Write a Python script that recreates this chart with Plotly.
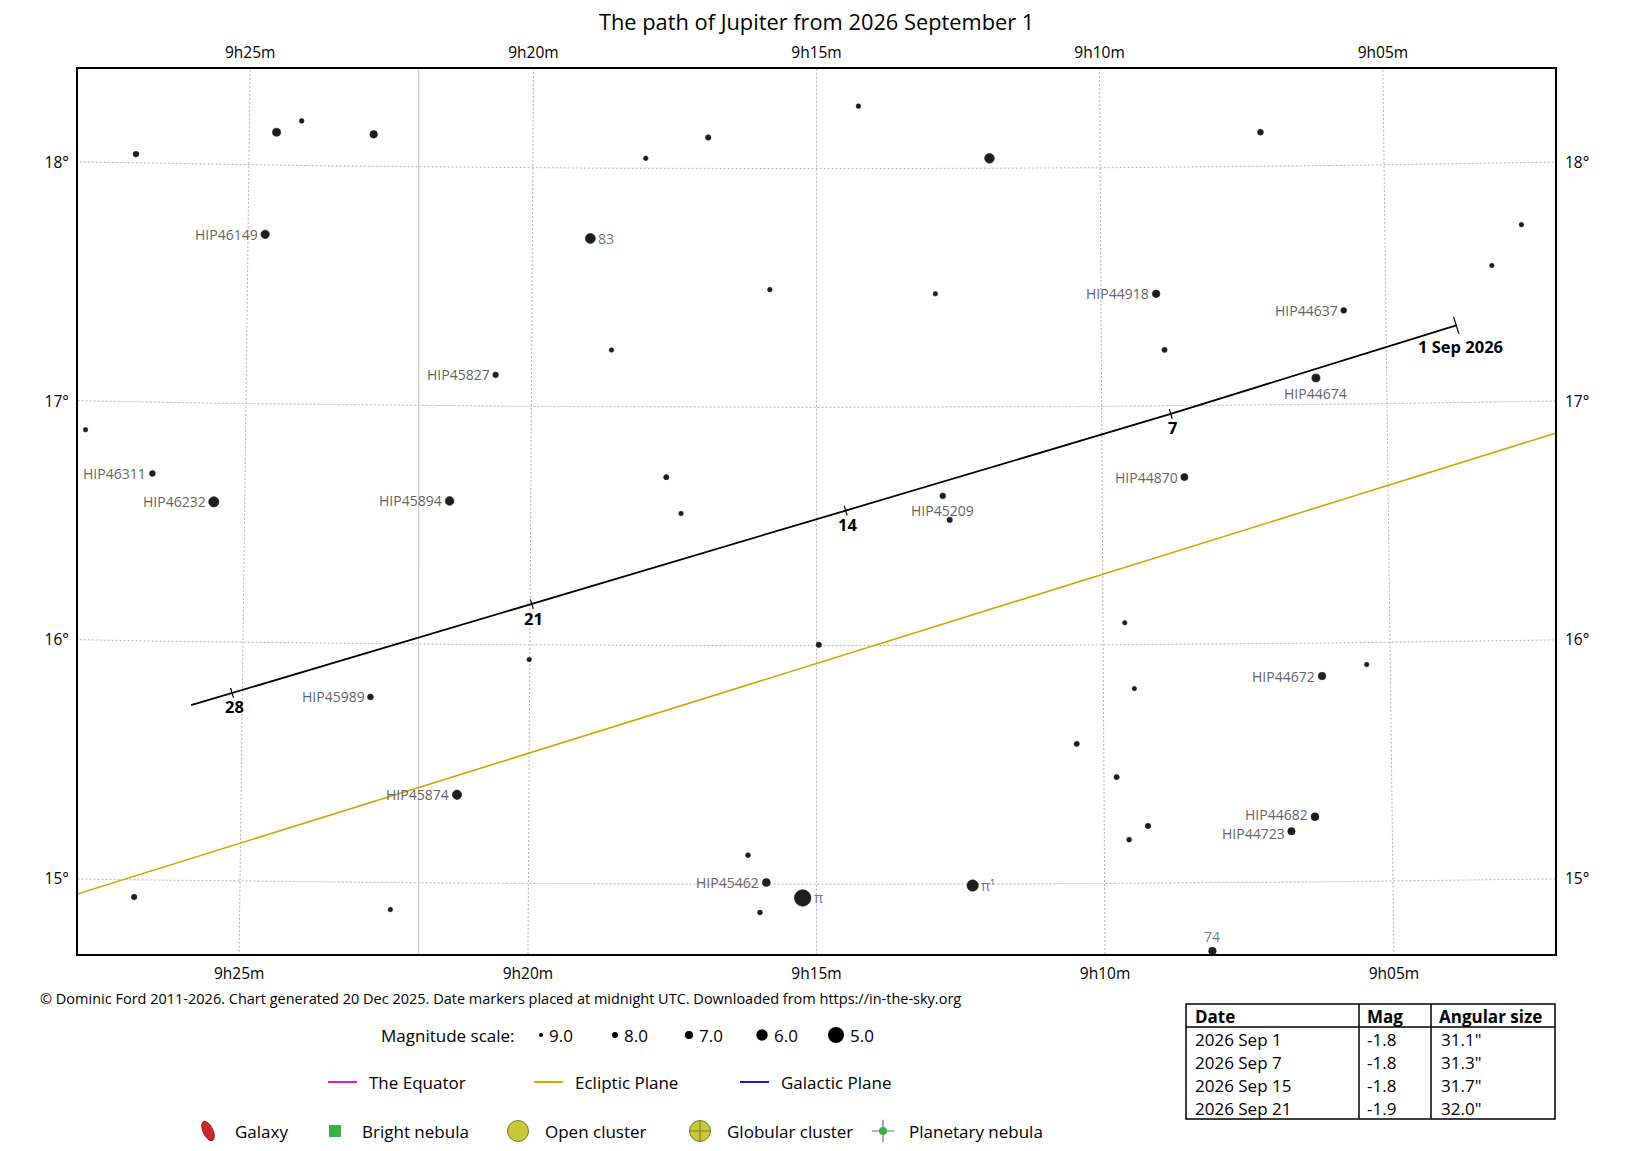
import numpy as np
import plotly.graph_objects as go

FONT = "Open Sans"
W, H = 1633, 1151
OFF = 8  # the page body margin the figure sits inside
# plot frame in page pixels and the chart scale
FL, FR, FT, FB = 78, 1555, 69, 954
PX_PER_DEG = 238.5

# tangent point of the projection (RA in minutes after 9h, Dec in degrees)
ra0_min = 15.0
dec0 = 16.563

title = "The path of Jupiter from 2026 September 1"
footer = ("© Dominic Ford 2011-2026. Chart generated 20 Dec 2025. Date markers placed at "
          "midnight UTC. Downloaded from https://in-the-sky.org")

# field stars: RA (minutes after 9h), Dec (deg), magnitude, label
star_ra_min = [26.99, 24.52, 24.08, 22.81, 14.26, 16.91, 18.01, 11.95, 7.17, 24.70,
               18.98, 15.82, 12.91, 9.03, 5.74, 3.13, 2.60, 18.60, 8.89, 20.63,
               6.24, 27.80, 26.62, 25.54, 21.42, 17.63, 17.37, 8.56, 12.79, 12.67,
               9.62, 14.96, 20.01, 5.41, 6.19, 9.46, 22.77, 10.47, 9.78, 21.25,
               6.34, 6.75, 9.24, 9.57, 16.19, 15.87, 15.24, 12.29, 15.98, 26.83,
               22.39, 8.14]
star_dec = [18.038, 18.138, 18.187, 18.134, 18.262, 18.130, 18.042, 18.042, 18.143, 17.710,
            17.705, 17.493, 17.475, 17.470, 17.393, 17.572, 17.741, 17.238, 17.235, 17.131,
            17.111, 16.881, 16.702, 16.587, 16.601, 16.706, 16.554, 16.701, 16.628, 16.527,
            16.092, 16.004, 15.939, 15.908, 15.862, 15.816, 15.777, 15.586, 15.446, 15.370,
            15.273, 15.213, 15.240, 15.183, 15.122, 15.008, 14.943, 14.994, 14.882, 14.928,
            14.887, 14.714]
star_mag = [8.0, 7.0, 8.6, 7.2, 8.7, 8.2, 8.7, 6.5, 8.0, 6.9,
            6.4, 8.7, 8.7, 7.2, 8.0, 8.7, 8.7, 8.7, 8.3, 8.1,
            7.0, 8.7, 8.0, 6.3, 6.8, 8.3, 8.7, 7.4, 8.0, 8.2,
            8.8, 8.2, 8.7, 8.7, 7.2, 8.8, 8.0, 8.3, 8.3, 6.6,
            7.1, 7.3, 8.2, 8.5, 8.5, 7.1, 4.9, 6.0, 8.5, 8.2,
            8.7, 7.2]
star_name = ["", "", "", "", "", "", "", "", "", "HIP46149",
             "83", "", "", "HIP44918", "HIP44637", "", "", "", "", "HIP45827",
             "HIP44674", "", "HIP46311", "HIP46232", "HIP45894", "", "", "HIP44870", "HIP45209", "",
             "", "", "", "", "HIP44672", "", "HIP45989", "", "", "HIP45874",
             "HIP44682", "HIP44723", "", "", "", "HIP45462", "π", "π¹", "", "",
             "", "74"]
# where each label sits relative to its star
label_side = {"83": "right", "π": "right", "π¹": "right", "74": "above",
              "HIP44674": "below", "HIP45209": "below"}
# small vertical nudges (px) for crowded labels
label_nudge = {"HIP44682": 2, "HIP44723": -2}

# Jupiter at midnight UTC
jup_label = ["1 Sep 2026", "7", "14", "21", "28", ""]
jup_ra_min = [3.77, 8.79, 14.49, 19.97, 25.18, 25.89]
jup_dec = [17.324, 16.966, 16.567, 16.171, 15.788, 15.734]

# ecliptic (a great circle, so a straight segment here)
ecl_ra_min = [28.45, 1.38]
ecl_dec = [14.887, 16.914]

# constellation boundary
bound_ra_min = [22.03, 21.89]
bound_dec = [18.5, 14.6]

grid_ra_min = [0, 5, 10, 15, 20, 25, 30]
grid_dec = [14, 15, 16, 17, 18, 19]

# table of Jupiter's brightness and size
tab_date = ["2026 Sep 1", "2026 Sep 7", "2026 Sep 15", "2026 Sep 21"]
tab_mag = ["-1.8", "-1.8", "-1.8", "-1.9"]
tab_size = ['31.1"', '31.3"', '31.7"', '32.0"']

mag_scale = [9.0, 8.0, 7.0, 6.0, 5.0]
plane_names = ["The Equator", "Ecliptic Plane", "Galactic Plane"]
plane_colors = ["#cc22cc", "#d4aa00", "#1a1acc"]
object_names = ["Galaxy", "Bright nebula", "Open cluster", "Globular cluster", "Planetary nebula"]


def project(ra_min, dec):
    """Gnomonic projection, returns (xi, eta) in degrees, xi positive to the east."""
    a = np.radians((540.0 + np.asarray(ra_min, float)) * 0.25)
    d = np.radians(np.asarray(dec, float))
    a0 = np.radians((540.0 + ra0_min) * 0.25)
    d0 = np.radians(dec0)
    cosc = np.sin(d0) * np.sin(d) + np.cos(d0) * np.cos(d) * np.cos(a - a0)
    xi = np.cos(d) * np.sin(a - a0) / cosc
    eta = (np.cos(d0) * np.sin(d) - np.sin(d0) * np.cos(d) * np.cos(a - a0)) / cosc
    return np.degrees(xi), np.degrees(eta)


def mag_size(m):
    return 16.0 * 1.4 ** (5.0 - np.asarray(m, float))


XR = (FR - FL) / 2 / PX_PER_DEG
YR = (FB - FT) / 2 / PX_PER_DEG
FW, FH = W - OFF, H - OFF

fig = go.Figure()

# coordinate grid
gx, gy = [], []
for m in grid_ra_min:
    x, y = project(np.full(80, m), np.linspace(13.5, 19.5, 80))
    gx += list(x) + [None]
    gy += list(y) + [None]
for dd in grid_dec:
    x, y = project(np.linspace(-5, 35, 120), np.full(120, dd))
    gx += list(x) + [None]
    gy += list(y) + [None]
fig.add_trace(go.Scatter(x=gx, y=gy, mode="lines", hoverinfo="skip",
                         line=dict(color="#b4b4b4", width=1, dash="2px,2px")))

bx, by = project(bound_ra_min, bound_dec)
fig.add_trace(go.Scatter(x=bx, y=by, mode="lines", hoverinfo="skip",
                         line=dict(color="#d0d0d0", width=1.3)))

ex, ey = project(ecl_ra_min, ecl_dec)
fig.add_trace(go.Scatter(x=ex, y=ey, mode="lines", hoverinfo="skip",
                         line=dict(color="#cfa500", width=1.6)))

# stars
sx, sy = project(star_ra_min, star_dec)
ssize = mag_size(star_mag)
fig.add_trace(go.Scatter(x=sx, y=sy, mode="markers", hoverinfo="skip",
                         marker=dict(size=ssize, color="#1e1e1e", opacity=1,
                                     line=dict(width=0.6, color="#1e1e1e"))))

for i, name in enumerate(star_name):
    if not name:
        continue
    side = label_side.get(name, "left")
    r = ssize[i] / 2
    col = "#666464" if name.startswith("HIP") else "#5b7fa6"
    ann = dict(x=sx[i], y=sy[i], xref="x", yref="y", text=name, showarrow=False,
               borderpad=0, yshift=label_nudge.get(name, 0),
               font=dict(family=FONT, size=14, color=col))
    if side == "left":
        ann.update(xanchor="right", yanchor="middle", xshift=-(r + 2))
    elif side == "right":
        ann.update(xanchor="left", yanchor="middle", xshift=r + 2)
    elif side == "below":
        ann.update(xanchor="center", yanchor="top", yshift=-(r + 1))
    else:
        ann.update(xanchor="center", yanchor="bottom", yshift=r)
    fig.add_annotation(**ann)

# Jupiter's path with date ticks
jx, jy = project(jup_ra_min, jup_dec)
fig.add_trace(go.Scatter(x=jx, y=jy, mode="lines", hoverinfo="skip",
                         line=dict(color="black", width=1.8)))
dx, dy = np.gradient(jx), np.gradient(jy)
n = np.hypot(dx, dy)
nx, ny = -dy / n, dx / n
tx, ty = [], []
for i, lab in enumerate(jup_label):
    if not lab:
        continue
    half = (9 if i == 0 else 5) / PX_PER_DEG
    tx += [jx[i] - nx[i] * half, jx[i] + nx[i] * half, None]
    ty += [jy[i] - ny[i] * half, jy[i] + ny[i] * half, None]
    fig.add_annotation(x=jx[i], y=jy[i], xref="x", yref="y", text="<b>%s</b>" % lab,
                       showarrow=False, xanchor="center", yanchor="middle",
                       xshift=4 if i == 0 else 2, yshift=-21 if i == 0 else -14,
                       font=dict(family=FONT, size=16.5, color="black"))
fig.add_trace(go.Scatter(x=tx, y=ty, mode="lines", hoverinfo="skip",
                         line=dict(color="black", width=1.2)))


# tick positions where grid lines meet the frame
def meridian_cross(m, eta_edge):
    decs = np.linspace(12, 21, 3601)
    xi, eta = project(np.full_like(decs, m), decs)
    return float(np.interp(eta_edge, eta, xi))


def parallel_cross(dd, xi_edge):
    ras = np.linspace(-10, 40, 5001)
    xi, eta = project(ras, np.full_like(ras, dd))
    return float(np.interp(xi_edge, xi, eta))


ra_text = ["9h%02dm" % m for m in grid_ra_min]
bottom_vals = [meridian_cross(m, -YR) for m in grid_ra_min]
top_vals = [meridian_cross(m, YR) for m in grid_ra_min]
dec_vals = [parallel_cross(dd, XR) for dd in grid_dec]
dec_text = ["%d°" % dd for dd in grid_dec]

# invisible points so the top/right axes get drawn
fig.add_trace(go.Scatter(x=[0], y=[0], xaxis="x2", yaxis="y", mode="markers",
                         marker=dict(opacity=0), hoverinfo="skip"))
fig.add_trace(go.Scatter(x=[0], y=[0], xaxis="x", yaxis="y2", mode="markers",
                         marker=dict(opacity=0), hoverinfo="skip"))

# ---- key below the chart, drawn on a page-pixel axis ----
P = dict(xaxis="x3", yaxis="y3", hoverinfo="skip")


def page_text(x, y, text, size=17, anchor="left", color="black"):
    fig.add_annotation(x=x, y=y, xref="x3", yref="y3", text=text, showarrow=False,
                       xanchor=anchor, yanchor="middle",
                       font=dict(family=FONT, size=size, color=color))


page_text(W / 2, 21, title, size=21.8, anchor="center")
page_text(38, 998, footer, size=14.5)

page_text(379, 1035, "Magnitude scale:")
mx = [541, 615, 689, 762, 836]
msz = mag_size(mag_scale)
fig.add_trace(go.Scatter(x=mx, y=[1035] * 5, mode="markers",
                         marker=dict(size=msz, color="black", opacity=1,
                                     line=dict(width=0)), **P))
for x, s, m in zip(mx, msz, mag_scale):
    page_text(x + s / 2 + 4, 1035, "%.1f" % m)

for x0, name, col in zip([328, 534, 740], plane_names, plane_colors):
    fig.add_trace(go.Scatter(x=[x0, x0 + 29], y=[1082, 1082], mode="lines",
                             line=dict(color=col, width=2), **P))
    page_text(x0 + 39, 1082, name)

oy = 1131
ox = [208, 335, 518, 700, 883]
t = np.linspace(0, 2 * np.pi, 60)
th = np.radians(25)
ellx = 5 * np.cos(t) * np.cos(th) - 10.5 * np.sin(t) * np.sin(th)
elly = 5 * np.cos(t) * np.sin(th) + 10.5 * np.sin(t) * np.cos(th)
fig.add_trace(go.Scatter(x=ox[0] + ellx, y=oy - elly, mode="lines", fill="toself",
                         fillcolor="#c8282a", line=dict(color="#a02020", width=1), **P))
fig.add_trace(go.Scatter(x=[ox[1]], y=[oy], mode="markers",
                         marker=dict(symbol="square", size=12, color="#3cb043",
                                     line=dict(width=0)), **P))
fig.add_trace(go.Scatter(x=[ox[2]], y=[oy], mode="markers",
                         marker=dict(symbol="circle", size=21, color="#c8c83c",
                                     line=dict(color="#7a7a30", width=1)), **P))
fig.add_trace(go.Scatter(x=[ox[3]], y=[oy], mode="markers",
                         marker=dict(symbol="circle-cross", size=21, color="#c8c83c",
                                     line=dict(color="#7a7a30", width=1)), **P))
fig.add_trace(go.Scatter(x=[ox[4]], y=[oy], mode="markers",
                         marker=dict(symbol="cross-thin", size=16,
                                     line=dict(color="#707070", width=1.2)), **P))
fig.add_trace(go.Scatter(x=[ox[4]], y=[oy], mode="markers",
                         marker=dict(symbol="circle", size=8, color="#3cb043",
                                     line=dict(width=0)), **P))
for x, name in zip([233, 360, 543, 725, 907], object_names):
    page_text(x, oy, name)

# table
TL, TR, TT, TB = 1186, 1555, 1004, 1119
C1, C2 = 1359, 1431
line = dict(color="black", width=1.5)
fig.add_shape(type="rect", x0=TL, x1=TR, y0=TT, y1=TB, xref="x3", yref="y3", line=line)
fig.add_shape(type="line", x0=TL, x1=TR, y0=1027, y1=1027, xref="x3", yref="y3", line=line)
for c in [C1, C2]:
    fig.add_shape(type="line", x0=c, x1=c, y0=TT, y1=TB, xref="x3", yref="y3", line=line)
page_text(TL + 7, 1016, "<b>Date</b>")
page_text(C1 + 6, 1016, "<b>Mag</b>")
page_text(C2 + 6, 1016, "<b>Angular size</b>")
for k, (d, m, s) in enumerate(zip(tab_date, tab_mag, tab_size)):
    yy = 1039 + 23 * k
    page_text(TL + 7, yy, d)
    page_text(C1 + 6, yy, m)
    page_text(C2 + 8, yy, s)

tickfont = dict(family=FONT, size=15.5, color="black")
fig.update_layout(
    width=FW, height=FH, margin=dict(l=0, r=0, t=0, b=0),
    paper_bgcolor="white", plot_bgcolor="rgba(0,0,0,0)", showlegend=False,
    font=dict(family=FONT, color="black"),
    xaxis=dict(domain=[(FL - OFF) / FW, (FR - OFF) / FW], range=[XR, -XR], anchor="y",
               tickvals=bottom_vals, ticktext=ra_text, tickfont=tickfont, ticks="",
               ticklabelstandoff=4, showgrid=False, zeroline=False,
               showline=True, mirror=True, linecolor="black", linewidth=2),
    xaxis2=dict(overlaying="x", side="top", range=[XR, -XR], anchor="y",
                tickvals=top_vals, ticktext=ra_text, tickfont=tickfont, ticks="",
                ticklabelstandoff=7, showgrid=False, zeroline=False, showline=False),
    yaxis=dict(domain=[1 - (FB - OFF) / FH, 1 - (FT - OFF) / FH], range=[-YR, YR], anchor="x",
               tickvals=dec_vals, ticktext=dec_text, tickfont=tickfont, ticks="",
               ticklabelstandoff=4, showgrid=False, zeroline=False,
               showline=True, mirror=True, linecolor="black", linewidth=2),
    yaxis2=dict(overlaying="y", side="right", range=[-YR, YR], anchor="x",
                tickvals=dec_vals, ticktext=dec_text, tickfont=tickfont, ticks="",
                ticklabelstandoff=9, showgrid=False, zeroline=False, showline=False),
    xaxis3=dict(domain=[0, 1], range=[OFF, W], visible=False, anchor="y3", fixedrange=True),
    yaxis3=dict(domain=[0, 1], range=[H, OFF], visible=False, anchor="x3", fixedrange=True),
)

fig.write_html("out.html")
